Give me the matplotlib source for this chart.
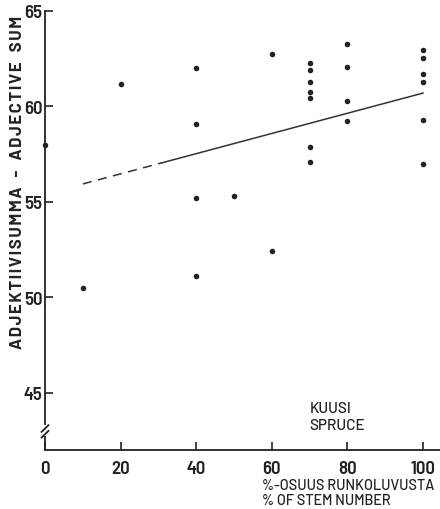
import matplotlib
matplotlib.use("Agg")
import matplotlib.pyplot as plt

# Spruce share of stem number (%) and adjective sum per stand
spruce_pct = [0, 10, 20, 40, 40, 40, 40, 50, 60, 60,
              70, 70, 70, 70, 70, 70, 70,
              80, 80, 80, 80,
              100, 100, 100, 100, 100, 100]
adjective_sum = [58.0, 50.5, 61.2, 62.0, 59.1, 55.2, 51.1, 55.3, 62.75, 52.4,
                 62.3, 61.9, 61.3, 60.75, 60.45, 57.9, 57.1,
                 63.25, 62.05, 60.3, 59.25,
                 62.97, 62.55, 61.7, 61.3, 59.3, 57.0]

# Fitted regression line: dashed where data are sparse, solid afterwards
fit_x_dashed = [10, 31]
fit_x_solid = [31, 100]
fit_intercept = 55.41
fit_slope = 0.0529

x_ticks = [0, 20, 40, 60, 80, 100]
y_ticks = [45, 50, 55, 60, 65]

ink = "#222222"
narrow = ["Barlow Semi Condensed", "DejaVu Sans"]
plain = ["Barlow", "DejaVu Sans"]

fig = plt.figure(figsize=(4.4, 5.1), dpi=100)
fig.patch.set_facecolor("white")
ax = fig.add_axes([45 / 440, 59 / 510, 395 / 440, 439 / 510])

ax.scatter(spruce_pct, adjective_sum, s=16, color=ink, zorder=3, clip_on=False,
           linewidths=0)

def fit(xs):
    return [fit_intercept + fit_slope * v for v in xs]

ax.plot(fit_x_dashed, fit(fit_x_dashed), color="#333333", lw=1.1,
        dashes=(6.0, 4.2))
ax.plot(fit_x_solid, fit(fit_x_solid), color="#333333", lw=1.1)

ax.set_xlim(0, 104.5)
ax.set_ylim(42, 65)

for side in ("top", "right"):
    ax.spines[side].set_visible(False)
for side in ("left", "bottom"):
    ax.spines[side].set_color(ink)
    ax.spines[side].set_linewidth(1.3)

ax.set_xticks(x_ticks)
ax.set_yticks(y_ticks)
ax.tick_params(axis="both", direction="in", length=6, width=1.2, color=ink,
               labelcolor=ink)
ax.tick_params(axis="x", pad=7)
ax.tick_params(axis="y", pad=2)
for lab in ax.get_xticklabels() + ax.get_yticklabels():
    lab.set_fontfamily(narrow)
    lab.set_fontsize(13.5)
    lab.set_fontweight("semibold")

# axis break on the y axis
ax.spines["left"].set_bounds(43.35, 65)
ax.plot([0, 0], [42, 42.75], color=ink, lw=1.3, clip_on=False,
        solid_capstyle="butt")
kw = dict(color=ink, lw=1.3, clip_on=False)
ax.plot([-0.9, 0.9], [42.95, 43.3], **kw)
ax.plot([-0.9, 0.9], [42.65, 43.0], **kw)

# species note inside the plot
ax.text(70.0, 44.0, "KUUSI", fontfamily=plain, fontsize=11,
        fontweight="medium", color=ink, ha="left", va="baseline")
ax.text(70.0, 43.12, "SPRUCE", fontfamily=plain, fontsize=11,
        fontweight="medium", color=ink, ha="left", va="baseline")

# x axis title, two languages
fig.text(262 / 440, 1 - 490 / 510, "%-OSUUS RUNKOLUVUSTA",
         fontfamily=plain, fontsize=10.4, fontweight="medium", color=ink,
         ha="left", va="baseline")
fig.text(262 / 440, 1 - 505 / 510, "% OF STEM NUMBER",
         fontfamily=plain, fontsize=10.4, fontweight="medium", color=ink,
         ha="left", va="baseline")

# y label with widened letter spacing
hair = "\u200a"
ylabel = "ADJEKTIIVISUMMA - ADJECTIVE SUM"
spaced = hair.join(ylabel).replace(" ", "  ")
fig.text(18 / 440, 1 - 182 / 510, spaced,
         rotation=90, fontfamily=["Barlow", "DejaVu Sans"], fontweight="bold",
         fontsize=12, color=ink, ha="center", va="center")

fig.savefig("out.png", dpi=100, facecolor="white")
